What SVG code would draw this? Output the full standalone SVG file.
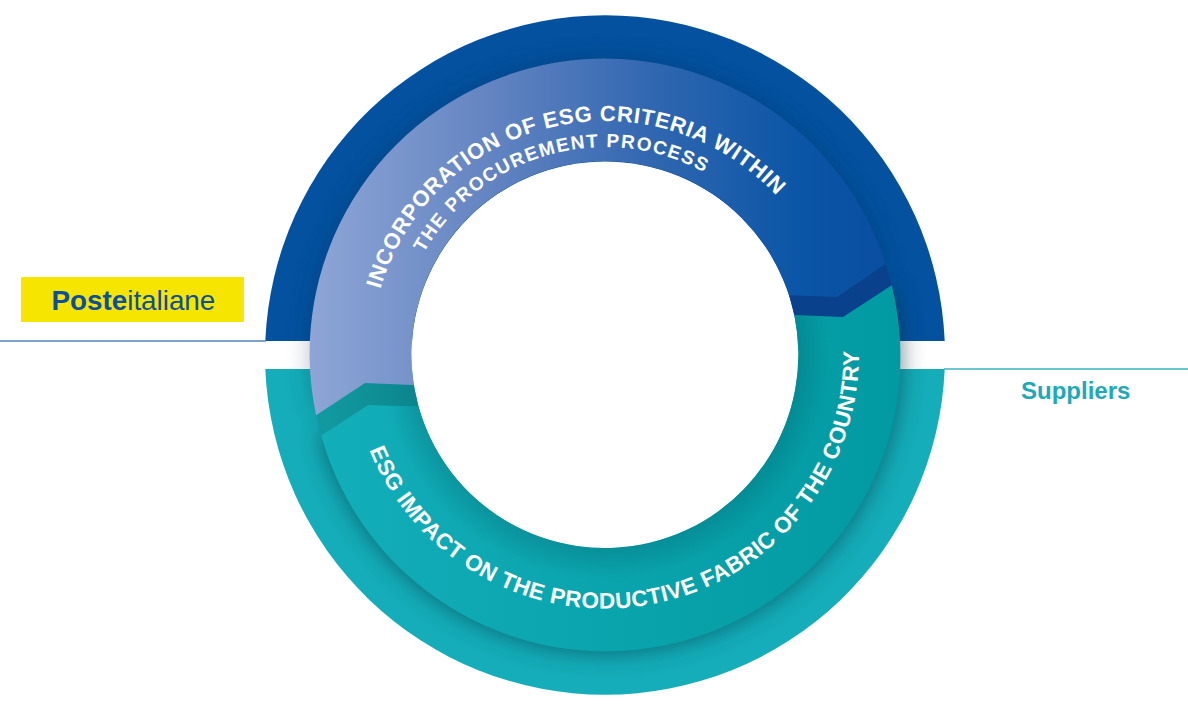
<svg xmlns="http://www.w3.org/2000/svg" width="1188" height="711" viewBox="0 0 1188 711">
<style>
text{font-family:"Liberation Sans",Arial,sans-serif}
.arc{fill:#fff;font-weight:700}
.line{fill:none;stroke-width:1.5}
</style>
<defs>
<linearGradient id="gTop" gradientUnits="userSpaceOnUse" x1="310" y1="0" x2="890" y2="0"><stop offset="0" stop-color="#8ea6d6"/><stop offset=".3" stop-color="#6585c2"/><stop offset=".6" stop-color="#2f66b0"/><stop offset=".85" stop-color="#0a55a6"/><stop offset="1" stop-color="#0a4ea0"/></linearGradient>
<linearGradient id="gTeal" gradientUnits="userSpaceOnUse" x1="320" y1="0" x2="900" y2="0"><stop offset="0" stop-color="#12aeb9"/><stop offset="1" stop-color="#029aa2"/></linearGradient>
<linearGradient id="gWedgeL" gradientUnits="userSpaceOnUse" x1="330" y1="0" x2="417" y2="0"><stop offset="0" stop-color="#12989f"/><stop offset="1" stop-color="#0c858d"/></linearGradient>
<radialGradient id="gInner" gradientUnits="userSpaceOnUse" cx="605" cy="355" r="295"><stop offset=".656" stop-color="#00404a" stop-opacity=".2"/><stop offset=".76" stop-color="#00404a" stop-opacity="0"/></radialGradient>
<filter id="soft" x="-15%" y="-15%" width="130%" height="130%"><feGaussianBlur stdDeviation="12"/></filter>
<path id="bandTop" d="M316.100 415.200A295 295 0 0 1 885.600 263.800L837 297L789.100 295.300A193.500 193.500 0 0 0 413.800 384.900L365 383Z"/>
<path id="bandTeal" d="M891.700 285.300A295 295 0 0 1 321.200 435.500L368 405L418.500 406.600A193.500 193.500 0 0 0 794.300 315.100L843 317Z"/>
<path id="p1" d="M380.400 289.300A234 234 0 0 1 807.600 238"/>
<path id="p2" d="M423.800 253A208 208 0 0 1 752 208"/>
<path id="p3" d="M369.500 450A254 254 0 0 0 855.100 310.900"/>
</defs>
<g id="outer-ring">
<path fill="#03519f" d="M265.300 341A340 340 0 0 1 944.700 341Z"/>
<path fill="#14adb9" d="M265.300 369A340 340 0 0 0 944.700 369Z"/>
</g>
<g id="connectors">
<path class="line" stroke="#4f86c6" d="M0 341H266"/>
<path class="line" stroke="#3bb3bf" d="M944 369H1188"/>
</g>
<g id="shadows">
<use href="#bandTop" fill="#00203f" opacity=".28" filter="url(#soft)"/>
<use href="#bandTeal" fill="#00303a" opacity=".6" filter="url(#soft)"/>
</g>
<circle id="hole" cx="605" cy="355" r="193.500" fill="#fff"/>
<g id="wedges">
<path fill="url(#gWedgeL)" d="M413.800 384.900L365 383L316.100 415.200L321.200 435.500L368 405L418.500 406.600Z"/>
<path fill="#0a418c" d="M789.100 295.300L837 297L885.600 263.800L891.700 285.300L843 317L794.300 315.100Z"/>
</g>
<g id="band-esg-impact">
<use href="#bandTeal" fill="url(#gTeal)"/>
<use href="#bandTeal" fill="url(#gInner)"/>
<text class="arc" font-size="22.500"><textPath href="#p3" textLength="703" lengthAdjust="spacing">ESG IMPACT ON THE PRODUCTIVE FABRIC OF THE COUNTRY</textPath></text>
</g>
<g id="band-incorporation">
<use href="#bandTop" fill="url(#gTop)"/>
<text class="arc" font-size="22"><textPath href="#p1" textLength="493" lengthAdjust="spacing">INCORPORATION OF ESG CRITERIA WITHIN</textPath></text>
<text class="arc" font-size="19"><textPath href="#p2" textLength="323" lengthAdjust="spacing">THE PROCUREMENT PROCESS</textPath></text>
</g>
<g id="node-poste">
<rect x="21" y="277" width="223" height="45" fill="#f6e500"/>
<text x="51.500" y="310" font-size="27.800" fill="#0b4f9e"><tspan font-weight="700">Poste</tspan><tspan>italiane</tspan></text>
</g>
<g id="node-suppliers">
<text x="1021" y="399" font-size="24" font-weight="700" fill="#1fa9b8">Suppliers</text>
</g>
</svg>
